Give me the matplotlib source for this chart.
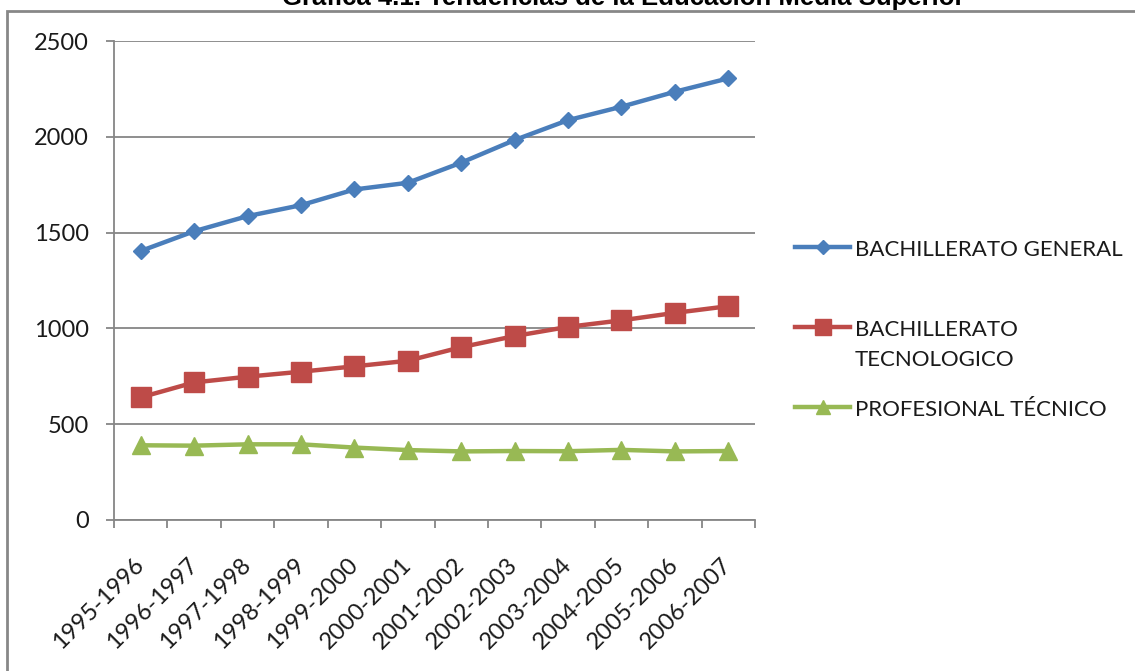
import matplotlib.pyplot as plt
from matplotlib.patches import Rectangle
from matplotlib.lines import Line2D
import numpy as np

plt.rcParams['font.family'] = ['Lato', 'DejaVu Sans']

ciclos = ["1995-1996", "1996-1997", "1997-1998", "1998-1999", "1999-2000", "2000-2001",
          "2001-2002", "2002-2003", "2003-2004", "2004-2005", "2005-2006", "2006-2007"]
bach_general = [1404, 1507, 1586, 1643, 1725, 1760, 1865, 1983, 2087, 2157, 2235, 2305]
bach_tecnologico = [640, 718, 748, 774, 802, 831, 902, 960, 1008, 1042, 1081, 1116]
prof_tecnico = [390, 388, 395, 395, 378, 365, 358, 360, 359, 366, 358, 360]

series = [
    (bach_general, 'BACHILLERATO GENERAL', '#4A7EBB', 'D', 8.5),
    (bach_tecnologico, 'BACHILLERATO\nTECNOLOGICO', '#BE4B48', 's', 14),
    (prof_tecnico, 'PROFESIONAL TÉCNICO', '#98B954', '^', 13),
]

fig = plt.figure(figsize=(11.35, 6.71), dpi=100)
ax = fig.add_axes([114/1135, 1-520/671, (755-114)/1135, (520-41)/671])

x = np.arange(len(ciclos))
for vals, name, col, mk, ms in series:
    ax.plot(x, vals, color=col, lw=3.2, marker=mk, ms=ms)

ax.set_xlim(-0.5, len(ciclos)-0.5)
ax.set_ylim(0, 2500)
ax.set_yticks(range(0, 2501, 500))
ax.grid(axis='y', color='#868686', lw=1.3)
ax.set_axisbelow(True)

for s in ['top', 'right']:
    ax.spines[s].set_visible(False)
for s in ['left', 'bottom']:
    ax.spines[s].set_color('#868686')
    ax.spines[s].set_linewidth(1.3)

ax.set_xticks(x)
ax.set_xticklabels(ciclos, rotation=45, ha='right', va='center', rotation_mode='anchor')
ax.set_xticks(np.arange(-0.5, len(ciclos), 1), minor=True)
ax.tick_params(axis='x', which='major', length=0, pad=30, labelsize=17, labelcolor='#1a1a1a')
ax.tick_params(axis='x', which='minor', length=6, width=1.3, color='#868686')
ax.tick_params(axis='y', length=6, width=1.3, color='#868686', pad=12, labelsize=17, labelcolor='#1a1a1a')

# leyenda a la derecha, la linea va con el primer renglon del texto
leg_y = [247, 327, 407]
for (vals, name, col, mk, ms), yy in zip(series, leg_y):
    yf = 1 - yy/671
    fig.add_artist(Line2D([795/1135, 850/1135], [yf, yf], transform=fig.transFigure,
                          color=col, lw=3.2))
    fig.add_artist(Line2D([822.5/1135], [yf], transform=fig.transFigure,
                          color=col, marker=mk, ms=ms*0.8, lw=0))
    for i, renglon in enumerate(name.split('\n')):
        fig.text(855/1135, 1 - (yy + 8.5 + 31*i)/671, renglon, ha='left', va='baseline',
                 fontsize=16, color='#1a1a1a')

fig.text(623/1135, 1-5/671, "Gráfica 4.1. Tendencias de la Educación Media Superior",
         ha='center', va='baseline', fontsize=18.5, fontweight='bold', family='Liberation Sans')
fig.patches.append(Rectangle((7/1135, -0.1), 1.2, 1-11/671+0.1, transform=fig.transFigure,
                             fill=False, edgecolor='#878787', lw=2))

fig.savefig('out.png', dpi=100)
